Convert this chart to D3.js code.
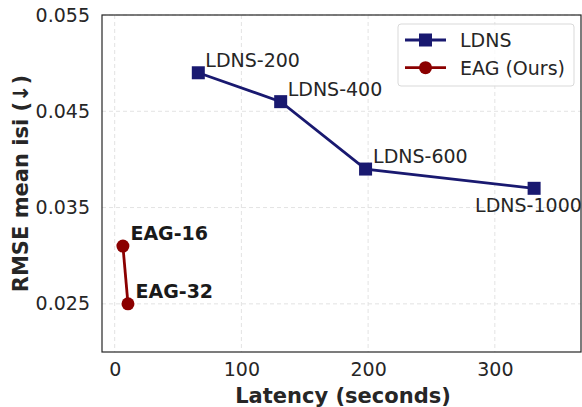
<!DOCTYPE html>
<html>
<head>
<meta charset="utf-8">
<script src="https://cdn.jsdelivr.net/npm/d3@7"></script>
<style>
  body { margin: 0; background: #fff; }
  text { font-family: "DejaVu Sans", sans-serif; }
</style>
</head>
<body>
<svg width="582" height="407"></svg>
<script>
// Data
const ldnsLabels = ["LDNS-200", "LDNS-400", "LDNS-600", "LDNS-1000"];
const ldnsLatency = [66, 131, 198, 331];
const ldnsRmse = [0.049, 0.046, 0.039, 0.037];

const eagLabels = ["EAG-16", "EAG-32"];
const eagLatency = [6.5, 10.5];
const eagRmse = [0.031, 0.025];

const xTicks = [0, 100, 200, 300];
const yTicks = [0.025, 0.035, 0.045, 0.055];

const svg = d3.select("svg"),
  margin = {left: 102, top: 15, right: 1, bottom: 55},
  width = +svg.attr("width"),
  height = +svg.attr("height");

const x = d3.scaleLinear().domain([-10, 368]).range([margin.left, width - margin.right]);
const y = d3.scaleLinear().domain([0.02, 0.055]).range([height - margin.bottom, margin.top]);

const navy = "#191970", red = "#8b0000";

// grid
svg.append("g")
  .selectAll("line")
  .data(xTicks)
  .join("line")
    .attr("x1", d => x(d)).attr("x2", d => x(d))
    .attr("y1", margin.top).attr("y2", height - margin.bottom)
    .attr("stroke", "#e3e3e3").attr("stroke-dasharray", "4,3");
svg.append("g")
  .selectAll("line")
  .data(yTicks)
  .join("line")
    .attr("y1", d => y(d)).attr("y2", d => y(d))
    .attr("x1", margin.left).attr("x2", width - margin.right)
    .attr("stroke", "#e3e3e3").attr("stroke-dasharray", "4,3");

// axes
const xAxis = svg.append("g")
  .attr("transform", `translate(0,${height - margin.bottom})`)
  .call(d3.axisBottom(x).tickValues(xTicks).tickSize(0).tickPadding(11));
const yAxis = svg.append("g")
  .attr("transform", `translate(${margin.left},0)`)
  .call(d3.axisLeft(y).tickValues(yTicks).tickFormat(d3.format(".3f")).tickSize(0).tickPadding(12));
[xAxis, yAxis].forEach(a => {
  a.select(".domain").remove();
  a.selectAll("text").attr("font-size", 19).attr("fill", "#262626");
});

// frame
svg.append("rect")
  .attr("x", margin.left).attr("y", margin.top)
  .attr("width", width - margin.right - margin.left)
  .attr("height", height - margin.bottom - margin.top)
  .attr("fill", "none").attr("stroke", "#262626").attr("stroke-width", 1.2);

// axis titles
svg.append("text")
  .attr("x", 343).attr("y", 402.5)
  .attr("text-anchor", "middle").attr("font-size", 21).attr("font-weight", "bold")
  .attr("fill", "#262626").text("Latency (seconds)");
svg.append("text")
  .attr("transform", `translate(28,${(margin.top + height - margin.bottom) / 2}) rotate(-90)`)
  .attr("text-anchor", "middle").attr("font-size", 21).attr("font-weight", "bold")
  .attr("fill", "#262626").text("RMSE mean isi (↓)");

const line = d3.line().x(d => x(d[0])).y(d => y(d[1]));
const ldns = ldnsLatency.map((v, i) => [v, ldnsRmse[i]]);
const eag = eagLatency.map((v, i) => [v, eagRmse[i]]);

svg.append("path").datum(ldns).attr("d", line)
  .attr("fill", "none").attr("stroke", navy).attr("stroke-width", 2.8);
svg.append("g").selectAll("rect")
  .data(ldns).join("rect")
    .attr("x", d => x(d[0]) - 6.5).attr("y", d => y(d[1]) - 6.5)
    .attr("width", 13).attr("height", 13).attr("fill", navy);

svg.append("path").datum(eag).attr("d", line)
  .attr("fill", "none").attr("stroke", red).attr("stroke-width", 2.8);
svg.append("g").selectAll("circle")
  .data(eag).join("circle")
    .attr("cx", d => x(d[0])).attr("cy", d => y(d[1]))
    .attr("r", 6.5).attr("fill", red);

// point labels
const ldnsOff = [[7, -6], [7, -6], [7.5, -6.3], [-59, 24]];
svg.append("g").selectAll("text")
  .data(ldns).join("text")
    .attr("x", (d, i) => x(d[0]) + ldnsOff[i][0])
    .attr("y", (d, i) => y(d[1]) + ldnsOff[i][1])
    .attr("font-size", 19).attr("fill", "#262626")
    .text((d, i) => ldnsLabels[i]);
svg.append("g").selectAll("text")
  .data(eag).join("text")
    .attr("x", d => x(d[0]) + 7.5)
    .attr("y", d => y(d[1]) - 6)
    .attr("font-size", 19).attr("font-weight", "bold").attr("fill", "#1a1a1a")
    .text((d, i) => eagLabels[i]);

// legend
const lg = svg.append("g").attr("transform", "translate(398,24)");
lg.append("rect").attr("width", 176).attr("height", 62).attr("rx", 3)
  .attr("fill", "#fff").attr("fill-opacity", 0.8).attr("stroke", "#d9d9d9");
const items = [["LDNS", navy, "sq"], ["EAG (Ours)", red, "ci"]];
items.forEach((it, i) => {
  const cy = 16 + i * 27.7;
  lg.append("line").attr("x1", 7).attr("x2", 48).attr("y1", cy).attr("y2", cy)
    .attr("stroke", it[1]).attr("stroke-width", 2.8);
  if (it[2] === "sq") lg.append("rect").attr("x", 21).attr("y", cy - 6.5).attr("width", 13).attr("height", 13).attr("fill", it[1]);
  else lg.append("circle").attr("cx", 27.5).attr("cy", cy).attr("r", 6.5).attr("fill", it[1]);
  lg.append("text").attr("x", 62).attr("y", cy + 7).attr("font-size", 19).attr("fill", "#262626").text(it[0]);
});
</script>
</body>
</html>
